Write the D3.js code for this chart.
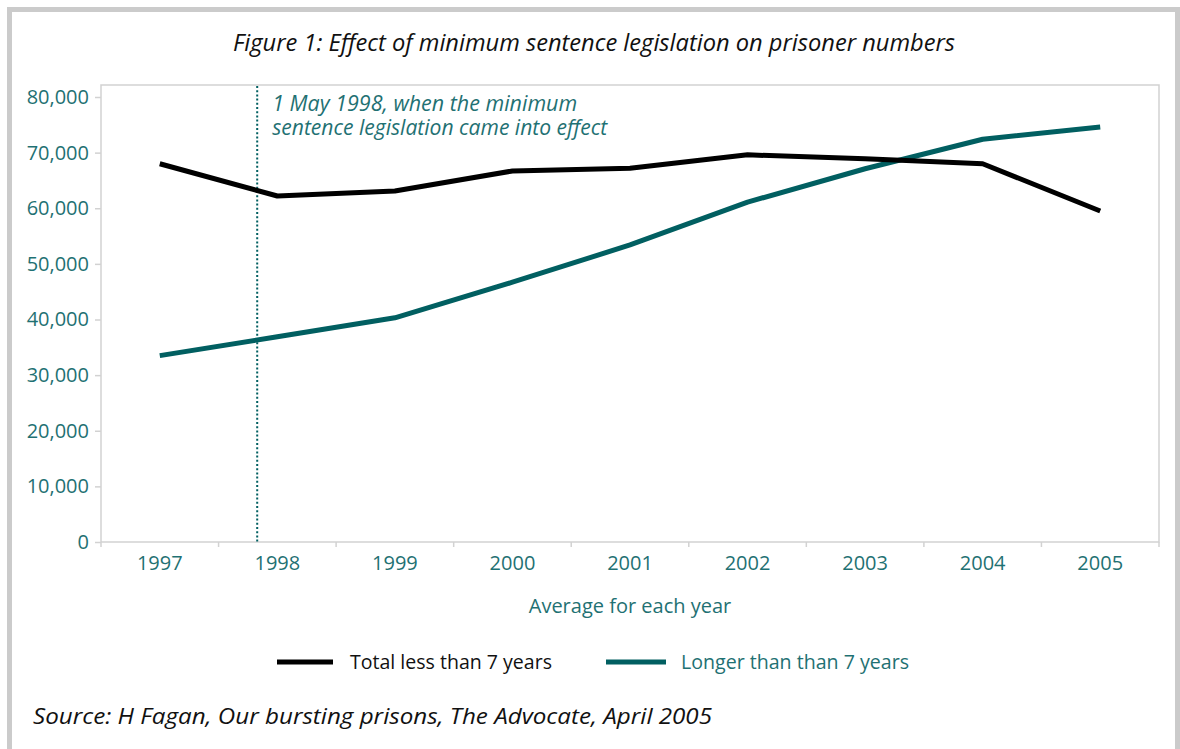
<!DOCTYPE html>
<html>
<head>
<meta charset="utf-8">
<script src="https://cdn.jsdelivr.net/npm/d3@7"></script>
<style>
  html, body { margin: 0; padding: 0; background: #fff; }
  svg { display: block; font-family: "Open Sans", "Noto Sans", sans-serif; }
</style>
</head>
<body>
<svg id="chart" width="1180" height="749"></svg>
<script>
// Average prisoner numbers per year, by sentence length
const years = ["1997", "1998", "1999", "2000", "2001", "2002", "2003", "2004", "2005"];
const lessThan7 = [68000, 62200, 63100, 66700, 67200, 69600, 68900, 68000, 59500];
const longerThan7 = [33500, 36900, 40300, 46700, 53400, 61100, 67100, 72400, 74600];
const yTicks = [0, 10000, 20000, 30000, 40000, 50000, 60000, 70000, 80000];
const seriesNames = ["Total less than 7 years", "Longer than than 7 years"];

// Legislation start: 1 May 1998 (day 120 of the year)
const eventYear = "1998";
const eventDayOfYear = 120;

const TEAL_LINE = "#015f61";
const TEAL_TEXT = "#1f7173";
const FRAME = "#d2d2d2";

const svg = d3.select("#chart");

// Outer border
svg.append("rect")
  .attr("x", 9.5).attr("y", 9.5)
  .attr("width", 1168).attr("height", 800)
  .attr("fill", "none")
  .attr("stroke", "#cbcbcb")
  .attr("stroke-width", 5);

const plot = { left: 101, right: 1159, top: 85, bottom: 542 };

const x = d3.scaleBand().domain(years).range([plot.left, plot.right]).padding(0);
const y = d3.scaleLinear().domain([0, 80000]).range([plot.bottom, 97]);

// Title
svg.append("text")
  .attr("x", 233).attr("y", 51)
  .attr("font-size", 23)
  .attr("font-style", "italic")
  .attr("fill", "#111")
  .attr("textLength", 722)
  .attr("lengthAdjust", "spacingAndGlyphs")
  .text("Figure 1: Effect of minimum sentence legislation on prisoner numbers");

// Plot frame
svg.append("rect")
  .attr("x", plot.left).attr("y", plot.top)
  .attr("width", plot.right - plot.left)
  .attr("height", plot.bottom - plot.top)
  .attr("fill", "none")
  .attr("stroke", FRAME)
  .attr("stroke-width", 1.5);

// Y axis
const yAxis = svg.append("g")
  .attr("transform", `translate(${plot.left},0)`)
  .call(d3.axisLeft(y).tickValues(yTicks).tickFormat(d3.format(",")).tickSize(6).tickPadding(6));
yAxis.select(".domain").remove();
yAxis.selectAll(".tick line").attr("stroke", FRAME).attr("stroke-width", 1.5);
yAxis.selectAll(".tick text")
  .attr("fill", TEAL_TEXT)
  .attr("font-size", 20)
  .attr("font-family", "'Open Sans', sans-serif");

// X axis labels centred in each year band
const xAxis = svg.append("g")
  .attr("transform", `translate(0,${plot.bottom})`)
  .call(d3.axisBottom(x).tickSize(0).tickPadding(14));
xAxis.select(".domain").remove();
xAxis.selectAll(".tick text")
  .attr("fill", TEAL_TEXT)
  .attr("font-size", 20)
  .attr("font-family", "'Open Sans', sans-serif");

// Band boundary tick marks
const boundaries = years.map(d => x(d)).concat([x(years[years.length - 1]) + x.bandwidth()]);
svg.append("g").selectAll("line")
  .data(boundaries)
  .join("line")
  .attr("x1", d => d).attr("x2", d => d)
  .attr("y1", plot.bottom).attr("y2", plot.bottom + 5)
  .attr("stroke", FRAME)
  .attr("stroke-width", 1.5);

// X axis title
svg.append("text")
  .attr("x", (plot.left + plot.right) / 2).attr("y", 613)
  .attr("text-anchor", "middle")
  .attr("font-size", 20)
  .attr("fill", TEAL_TEXT)
  .text("Average for each year");

// Legislation marker
const eventX = x(eventYear) + x.bandwidth() * (eventDayOfYear / 365);
svg.append("line")
  .attr("x1", eventX).attr("x2", eventX)
  .attr("y1", plot.top + 1).attr("y2", plot.bottom)
  .attr("stroke", TEAL_LINE)
  .attr("stroke-width", 2)
  .attr("stroke-dasharray", "2,2.2");

const noteLines = ["1 May 1998, when the minimum", "sentence legislation came into effect"];
svg.append("g").selectAll("text")
  .data(noteLines)
  .join("text")
  .attr("x", eventX + 15)
  .attr("y", (d, i) => 111 + i * 24)
  .attr("font-size", 21)
  .attr("font-style", "italic")
  .attr("fill", TEAL_TEXT)
  .attr("textLength", (d, i) => i === 0 ? 305 : 335)
  .attr("lengthAdjust", "spacingAndGlyphs")
  .text(d => d);

// Series lines
const line = d3.line()
  .x((d, i) => x(years[i]) + x.bandwidth() / 2)
  .y(d => y(d));

svg.append("path")
  .datum(longerThan7)
  .attr("d", line)
  .attr("fill", "none")
  .attr("stroke", TEAL_LINE)
  .attr("stroke-width", 5)
  .attr("stroke-linejoin", "round");

svg.append("path")
  .datum(lessThan7)
  .attr("d", line)
  .attr("fill", "none")
  .attr("stroke", "#000")
  .attr("stroke-width", 5)
  .attr("stroke-linejoin", "round");

// Legend
const legend = [
  { name: seriesNames[0], color: "#000", text: "#111", x1: 277, x2: 333, tx: 350, w: 202 },
  { name: seriesNames[1], color: TEAL_LINE, text: TEAL_TEXT, x1: 606, x2: 666, tx: 681, w: 228 }
];
const lg = svg.append("g").selectAll("g").data(legend).join("g");
lg.append("line")
  .attr("x1", d => d.x1).attr("x2", d => d.x2)
  .attr("y1", 662).attr("y2", 662)
  .attr("stroke", d => d.color)
  .attr("stroke-width", 5);
lg.append("text")
  .attr("x", d => d.tx).attr("y", 669)
  .attr("font-size", 20)
  .attr("font-family", "'Liberation Sans Narrow', 'Open Sans', sans-serif")
  .attr("fill", d => d.text)
  .attr("textLength", d => d.w)
  .attr("lengthAdjust", "spacingAndGlyphs")
  .text(d => d.name);

// Source note
svg.append("text")
  .attr("x", 33).attr("y", 724)
  .attr("font-size", 22)
  .attr("font-style", "italic")
  .attr("fill", "#111")
  .attr("textLength", 679)
  .attr("lengthAdjust", "spacingAndGlyphs")
  .text("Source: H Fagan, Our bursting prisons, The Advocate, April 2005");
</script>
</body>
</html>
